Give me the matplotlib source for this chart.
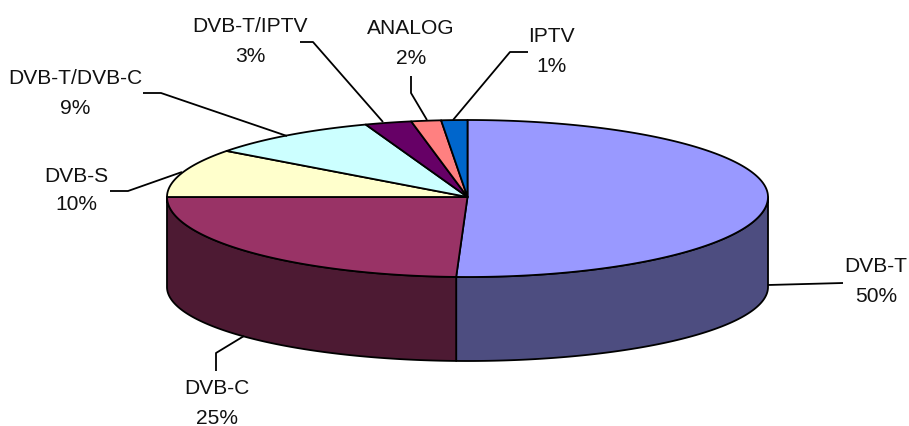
import numpy as np
import matplotlib
matplotlib.use("Agg")
import matplotlib.pyplot as plt
from matplotlib.patches import Polygon

categories = ["DVB-T", "DVB-C", "DVB-S", "DVB-T/DVB-C", "DVB-T/IPTV", "ANALOG", "IPTV"]
shares = [50.6, 24.4, 10.2, 9.3, 2.5, 1.6, 1.4]
percent_labels = ["50%", "25%", "10%", "9%", "3%", "2%", "1%"]
top_colors = ["#9999FF", "#993366", "#FFFFCC", "#CCFFFF", "#660066", "#FF8080", "#0066CC"]
side_colors = ["#4D4D80", "#4D1A33", "#808066", "#668080", "#330033", "#804040", "#003366"]

# layout (pixels)
W, H = 909, 426
CX, RX = 467.5, 300.5
CY, RY_BACK, RY_FRONT = 197.0, 77.0, 80.0
BCY, BRY = 287.0, 74.0
LW = 1.3
FS = 15.1

label_xy = [(876, 267, 297), (217, 389, 418), (76, 176, 205), (75, 78, 108),
            (250, 26, 56), (411, 28, 58), (551, 37, 66)]
leaders = [
    [(768, 285), (843, 283)],
    [(244, 336), (216, 353), (216, 371)],
    [(182, 172), (128, 191), (110, 191)],
    [(287, 136), (161, 93), (143, 93)],
    [(383, 122), (313, 42), (300, 42)],
    [(427, 120), (411, 93), (411, 76)],
    [(453, 120), (510, 52), (528, 52)],
]

plt.rcParams["font.family"] = ["Liberation Sans", "DejaVu Sans"]
fig = plt.figure(figsize=(W / 100, H / 100), dpi=100, facecolor="white")
ax = fig.add_axes([0, 0, 1, 1])
ax.set_xlim(0, W)
ax.set_ylim(H, 0)
ax.axis("off")


def top_pt(t):
    ry = np.where(np.cos(t) >= 0, RY_BACK, RY_FRONT)
    return CX + RX * np.sin(t), CY - ry * np.cos(t)


def bot_pt(t):
    return CX + RX * np.sin(t), BCY - BRY * np.cos(t)


edges = np.cumsum([0] + shares) / sum(shares) * 2 * np.pi

# visible side walls (front half only)
for i in range(len(shares)):
    a = max(edges[i], np.pi / 2)
    b = min(edges[i + 1], 3 * np.pi / 2)
    if b <= a:
        continue
    t = np.linspace(a, b, 200)
    xt, yt = top_pt(t)
    xb, yb = bot_pt(t[::-1])
    pts = np.column_stack([np.r_[xt, xb], np.r_[yt, yb]])
    ax.add_patch(Polygon(pts, closed=True, fc=side_colors[i], ec="black", lw=LW,
                         joinstyle="round", zorder=2))

# top wedges
for i in range(len(shares)):
    t = np.linspace(edges[i], edges[i + 1], 300)
    xt, yt = top_pt(t)
    pts = np.column_stack([np.r_[CX, xt], np.r_[CY, yt]])
    ax.add_patch(Polygon(pts, closed=True, fc=top_colors[i], ec="black", lw=LW,
                         joinstyle="round", zorder=3))

# leader lines and labels
for i, name in enumerate(categories):
    xs, ys = zip(*leaders[i])
    ax.plot(xs, ys, color="black", lw=LW, solid_capstyle="butt", zorder=4)
    x, y1, y2 = label_xy[i]
    ax.text(x, y1, name, ha="center", va="center", fontsize=FS, color="#111111")
    ax.text(x, y2, percent_labels[i], ha="center", va="center", fontsize=FS, color="#111111")

fig.savefig("out.png", dpi=100, facecolor="white")
